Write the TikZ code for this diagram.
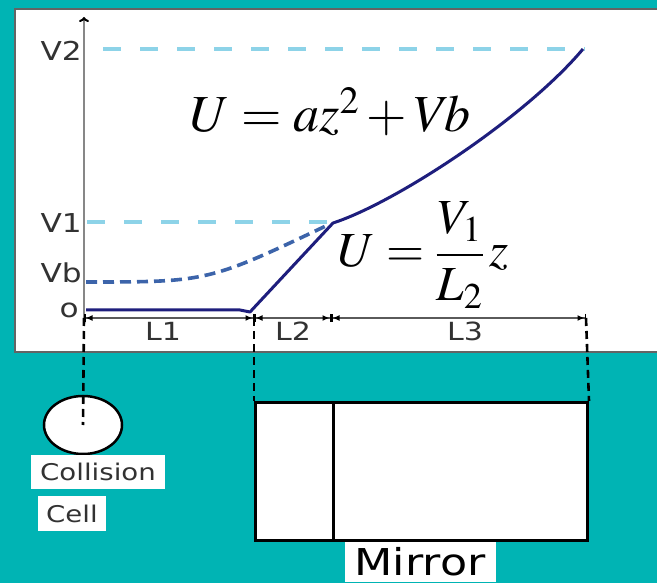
\documentclass[tikz,border=0pt]{standalone}
\usepackage{mathptmx}
\usepackage{fontspec}
\setmainfont{Liberation Serif}
\newfontfamily\lblfont[FakeStretch=1.2]{DejaVu Sans}
\usetikzlibrary{arrows.meta,positioning,calc,shapes.geometric}
\definecolor{bg-teal}{RGB}{0,180,180}
\definecolor{frame-gray}{RGB}{100,100,100}
\definecolor{lvl-blue}{HTML}{8DD3E8}
\definecolor{pot-navy}{RGB}{30,30,125}
\definecolor{pot-dash}{RGB}{60,100,170}
\definecolor{axis-gray}{RGB}{135,135,135}
\definecolor{dim-gray}{RGB}{90,90,90}
\definecolor{txt-gray}{RGB}{50,50,50}

\begin{document}
\begin{tikzpicture}[
 x=1pt, y=-1pt,
 vlbl/.style={font=\lblfont\fontsize{26}{30}\selectfont, text=txt-gray, anchor=base east, inner sep=0},
 llbl/.style={font=\lblfont\fontsize{25}{30}\selectfont, text=txt-gray, anchor=base, inner sep=0},
 level/.style={lvl-blue, line width=4pt, dash pattern=on 18pt off 19pt},
 guide/.style={black, line width=2.6pt, dash pattern=on 8pt off 5pt},
 dim/.style={dim-gray, line width=1.5pt,
   {Bar[black,width=8pt]Latex[black,length=7pt,width=6pt]}-{Latex[black,length=7pt,width=6pt]Bar[black,width=8pt]}},
 tag/.style={fill=white, inner sep=0, text=txt-gray},
 eq/.style={anchor=base west, inner sep=0},
]
 %
 \fill[bg-teal] (0,0) rectangle (657,583);
 \useasboundingbox (0,0) rectangle (657,583);
 \draw[frame-gray, line width=2pt, fill=white] (15,9) rectangle (680,352);
 %
 \coordinate (v2s) at (103,49); \coordinate (v2e) at (585,49);
 \coordinate (v1s) at (87,222); \coordinate (v1e) at (333,222);
 \draw[level] (v2s) -- (v2e);
 \draw[level] (v1s) -- (v1e);
 %
 \draw[axis-gray, line width=2pt, -{To[color=black,length=5pt,width=10pt]}] (84,322) -- (84,17);
 \node[vlbl] (v2lbl) at (82,61) {V2};
 \node[vlbl] (v1lbl) at (82,233) {V1};
 \node[vlbl] (vblbl) at (82,283) {Vb};
 \node[vlbl] (olbl) at (79,317) {o};
 %
 \draw[pot-dash, line width=3.6pt, dash pattern=on 11pt off 6pt] (86,282) .. controls (208,282) .. (330,224);
 \draw[pot-navy, line width=3pt, line join=round]
   (86,310) -- (240,310) -- (250,312) -- (333,223) .. controls (395,203) and (525,118) .. (583,49);
 %
 \node[eq, font=\fontsize{52}{56}\selectfont] (equad) at (190,132) {$U = az^2 + V\mkern-2mu b$};
 \node[eq, font=\fontsize{49}{54}\selectfont] (elin) at (338,267) {$U = \displaystyle\frac{V_1}{L_2}\,z$};
 %
 \coordinate (z0) at (84,318); \coordinate (z1) at (254,318);
 \coordinate (z2) at (331,318); \coordinate (z3) at (586,318);
 \draw[dim] (z0) -- (z1);
 \draw[dim] (z1) -- (z2);
 \draw[dim] (z2) -- (z3);
 \node[llbl] (l1lbl) at (163,341) {L1};
 \node[llbl] (l2lbl) at (293,341) {L2};
 \node[llbl] (l3lbl) at (465,341) {L3};
 %
 \node[draw, ellipse, line width=2.5pt, fill=white, minimum width=78pt, minimum height=58pt] (cell) at (83,425) {};
 \node[draw, line width=3pt, fill=white, minimum width=332pt, minimum height=138pt,
   anchor=north west, inner sep=0] (mirror) at (254,401) {};
 \draw[line width=3pt] ($(mirror.north west)+(79,0)$) -- ($(mirror.south west)+(79,0)$);
 %
 \draw[guide] (z0) -- (cell.center);
 \draw[guide] (z1) -- (mirror.north west);
 \draw[guide] (z3) -- (mirror.north east);
 %
 \node[tag, minimum width=134pt, minimum height=34pt, font=\lblfont\fontsize{23}{28}\selectfont] (colltag) at (98,472) {Collision};
 \node[tag, minimum width=68pt, minimum height=35pt, font=\lblfont\fontsize{23}{28}\selectfont] (celltag) at (72,513.5) {Cell};
 \node[tag, text=black, minimum width=151pt, minimum height=40pt, font=\lblfont\fontsize{37}{42}\selectfont] (mirrortag) at (420,562) {Mirror};
\end{tikzpicture}
\end{document}
